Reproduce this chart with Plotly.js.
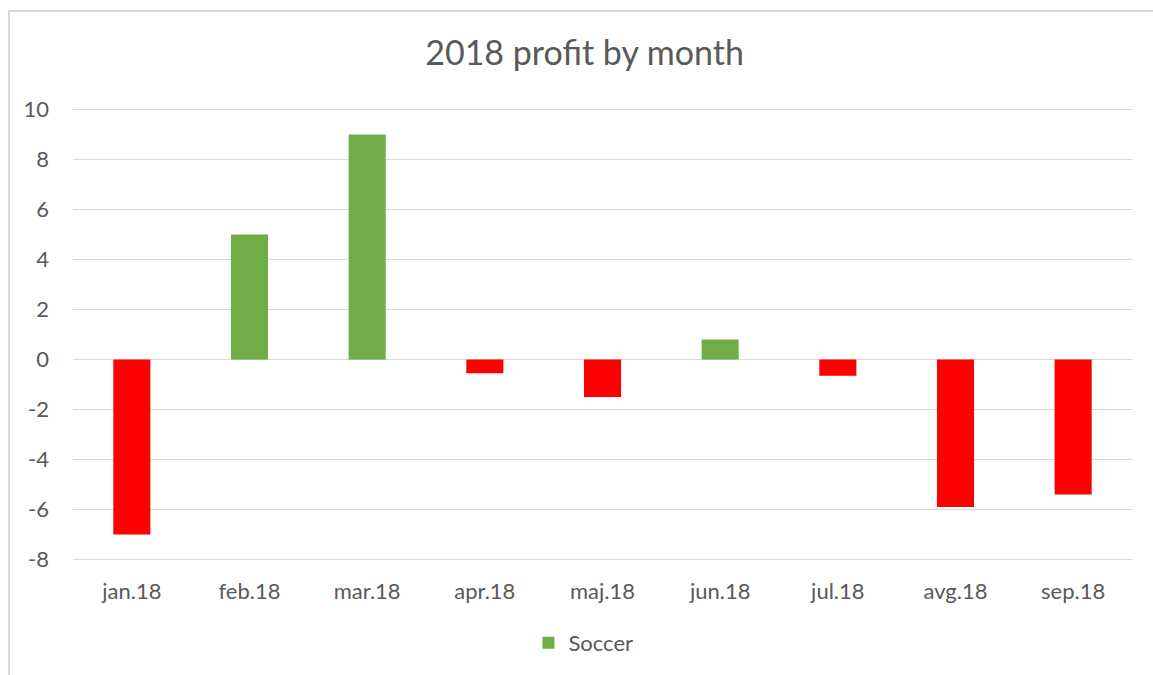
<!DOCTYPE html>
<html>
<head>
<meta charset="utf-8">
<script src="https://cdn.plot.ly/plotly-3.0.1.min.js"></script>
<style>
  html, body { margin: 0; padding: 0; background: #ffffff; }
  #frame { position: absolute; left: 8px; top: 10px; width: 1200px; height: 700px;
           border-left: 2px solid #d9d9d9; border-top: 2px solid #d9d9d9; box-sizing: border-box; }
  #chart { position: absolute; left: 0; top: 0; width: 1153px; height: 675px; }
</style>
</head>
<body>
<div id="frame"></div>
<div id="chart"></div>
<script>
const months = ["jan.18", "feb.18", "mar.18", "apr.18", "maj.18", "jun.18", "jul.18", "avg.18", "sep.18"];
const profit = [-7.0, 5.0, 9.0, -0.55, -1.5, 0.8, -0.65, -5.9, -5.4];
const seriesName = "Soccer";
const yTicks = [-8, -6, -4, -2, 0, 2, 4, 6, 8, 10];
const yTickLabels = ["-8", "-6", "-4", "-2", "0", "2", "4", "6", "8", "10"];

const green = "#70AD47";
const red = "#FF0000";
const textColor = "#595959";
const fontFam = "Lato, 'Open Sans', sans-serif";

const barColors = profit.map(v => v < 0 ? red : green);

const traces = [
  {
    type: "bar",
    x: months,
    y: profit,
    width: 0.315,
    marker: { color: barColors, line: { width: 0 } },
    showlegend: false,
    hoverinfo: "x+y"
  },
  {
    type: "bar",
    x: [null],
    y: [null],
    name: seriesName,
    marker: { color: green },
    showlegend: true,
    hoverinfo: "skip"
  }
];

const layout = {
  width: 1153,
  height: 675,
  paper_bgcolor: "rgba(0,0,0,0)",
  plot_bgcolor: "rgba(0,0,0,0)",
  margin: { l: 73, r: 21, t: 107, b: 113, autoexpand: false },
  barmode: "overlay",
  title: {
    text: "2018 profit by month",
    font: { family: fontFam, size: 34, color: textColor },
    x: 0.507, xref: "container", xanchor: "center",
    y: 0.921, yref: "container", yanchor: "middle"
  },
  xaxis: {
    type: "category",
    automargin: false,
    showgrid: false,
    showline: false,
    zeroline: false,
    ticks: "",
    ticklabelstandoff: 14,
    tickfont: { family: fontFam, size: 22, color: textColor }
  },
  yaxis: {
    range: [-8.1, 10.1],
    automargin: false,
    tickvals: yTicks,
    ticktext: yTickLabels,
    showgrid: true,
    gridcolor: "#d9d9d9",
    gridwidth: 1.5,
    zeroline: true,
    zerolinecolor: "#d9d9d9",
    zerolinewidth: 1.5,
    showline: false,
    ticks: "",
    ticklabelstandoff: 23,
    tickfont: { family: fontFam, size: 22, color: textColor }
  },
  showlegend: true,
  legend: {
    orientation: "h",
    x: 0.482, xanchor: "center",
    y: -0.178, yanchor: "middle",
    itemwidth: 30,
    font: { family: fontFam, size: 22, color: textColor },
    bgcolor: "rgba(0,0,0,0)"
  }
};

Plotly.newPlot("chart", traces, layout, { displayModeBar: false, staticPlot: true });
</script>
</body>
</html>
